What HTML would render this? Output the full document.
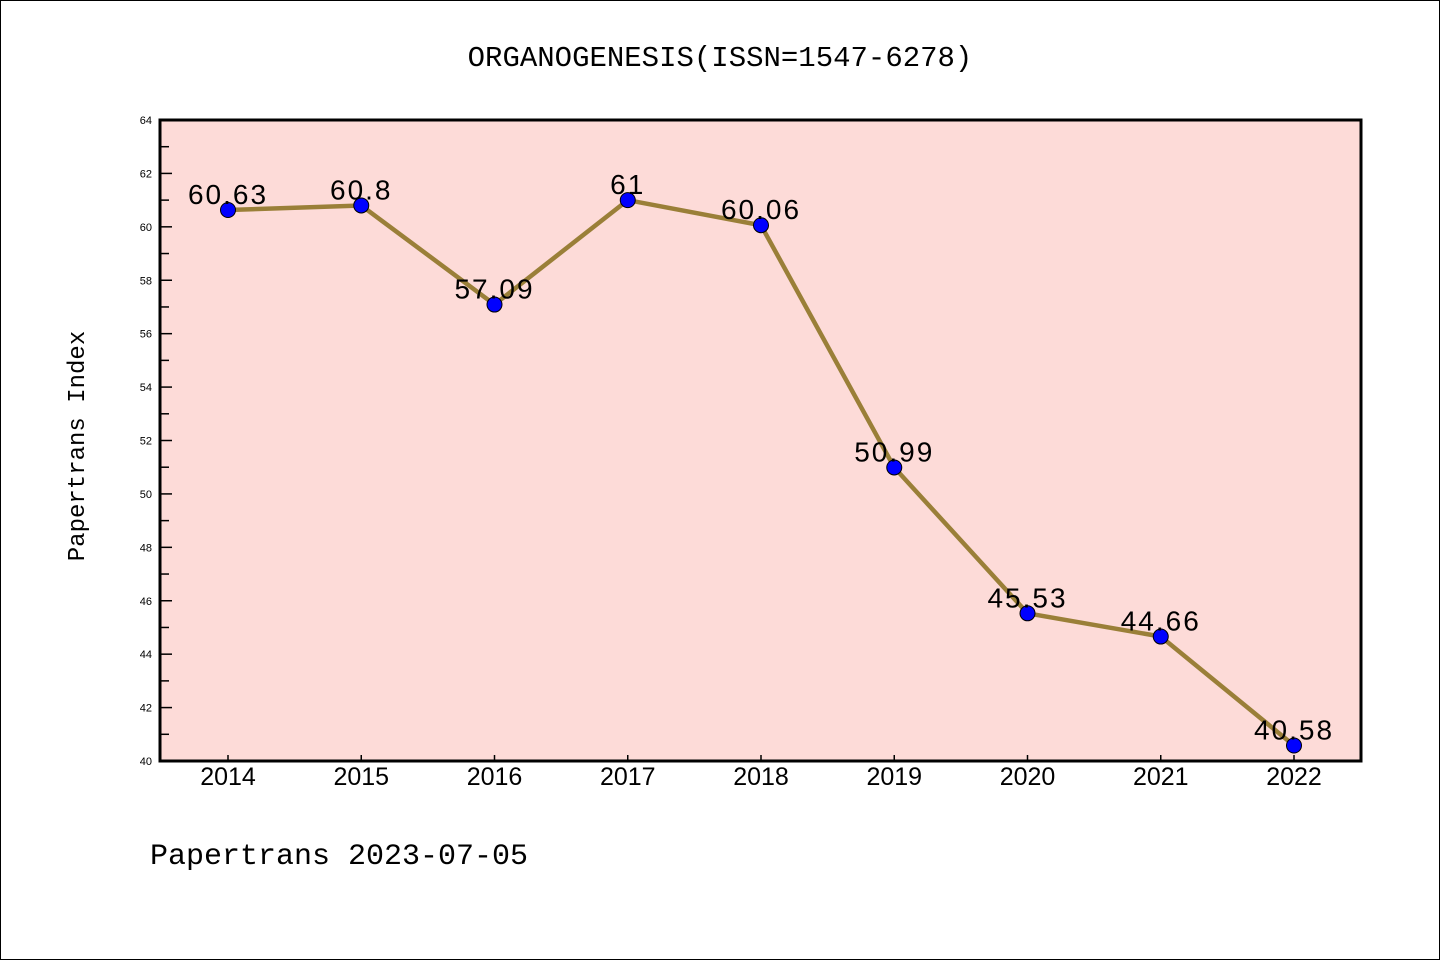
<!DOCTYPE html>
<html><head><meta charset="utf-8"><style>
body{margin:0;background:#fff}
svg{display:block;font-family:"Liberation Sans","DejaVu Sans",sans-serif}
</style></head><body>
<svg width="1440" height="960">
<rect x="0.5" y="0.5" width="1439" height="959" fill="#fff" stroke="#000"/>
<text x="720" y="66" text-anchor="middle" font-size="29" font-family="Liberation Mono, DejaVu Sans Mono, monospace">ORGANOGENESIS(ISSN=1547-6278)</text>
<rect x="160" y="120" width="1201" height="641" fill="#fddbd8"/>
<g id="yaxis"></g>
<g id="xaxis"></g>
<g id="series"></g>
<rect x="160" y="120" width="1201" height="641" fill="none" stroke="#000" stroke-width="3"/>
<text x="84" y="446" transform="rotate(-90 84 446)" text-anchor="middle" font-size="24" font-family="Liberation Mono, DejaVu Sans Mono, monospace">Papertrans Index</text>
<text x="150" y="864" font-size="30" font-family="Liberation Mono, DejaVu Sans Mono, monospace">Papertrans 2023-07-05</text>
</svg>
<script>
const years=["2014","2015","2016","2017","2018","2019","2020","2021","2022"];
const values=[60.63,60.8,57.09,61,60.06,50.99,45.53,44.66,40.58];
const yTicks=[40,42,44,46,48,50,52,54,56,58,60,62,64];
const NS="http://www.w3.org/2000/svg";
const x=i=>228+i*133.25;
const y=v=>761-(v-40)*(641/24);
function mk(t,a,p){const e=document.createElementNS(NS,t);for(const k in a)e.setAttribute(k,a[k]);p.appendChild(e);return e;}
const ya=document.getElementById('yaxis'),xa=document.getElementById('xaxis'),s=document.getElementById('series');
yTicks.forEach(v=>{
 const l=mk('line',{x1:160,x2:172,y1:y(v),y2:y(v),stroke:'#000','stroke-width':1.5},ya);
 
 
 if(v<64){const m=mk('line',{x1:160,x2:169,y1:y(v+1),y2:y(v+1),stroke:'#000','stroke-width':1.5},ya);
 
 }
 const t=mk('text',{x:152,y:y(v)+4,'text-anchor':'end','font-size':11},ya);t.textContent=v;
 
 
});
years.forEach((yr,i)=>{
 const l=mk('line',{x1:x(i),x2:x(i),y1:755,y2:761,stroke:'#000','stroke-width':1.5},xa);
 
 
 const t=mk('text',{x:x(i),y:785,'text-anchor':'middle','font-size':25},xa);t.textContent=yr;
 
 
});
const pl=mk('polyline',{points:values.map((v,i)=>x(i)+','+y(v)).join(' '),fill:'none',stroke:'#9a7f38','stroke-width':4.5},s);


values.forEach((v,i)=>{
 const c=mk('circle',{cx:x(i),cy:y(v),r:7.5,fill:'#0000ff',stroke:'#000','stroke-width':1},s);
 
 
 const t=mk('text',{x:x(i),y:y(v)-6,'text-anchor':'middle','font-size':28,'letter-spacing':2},s);t.textContent=String(v);
 
 
});
</script>
</body></html>
